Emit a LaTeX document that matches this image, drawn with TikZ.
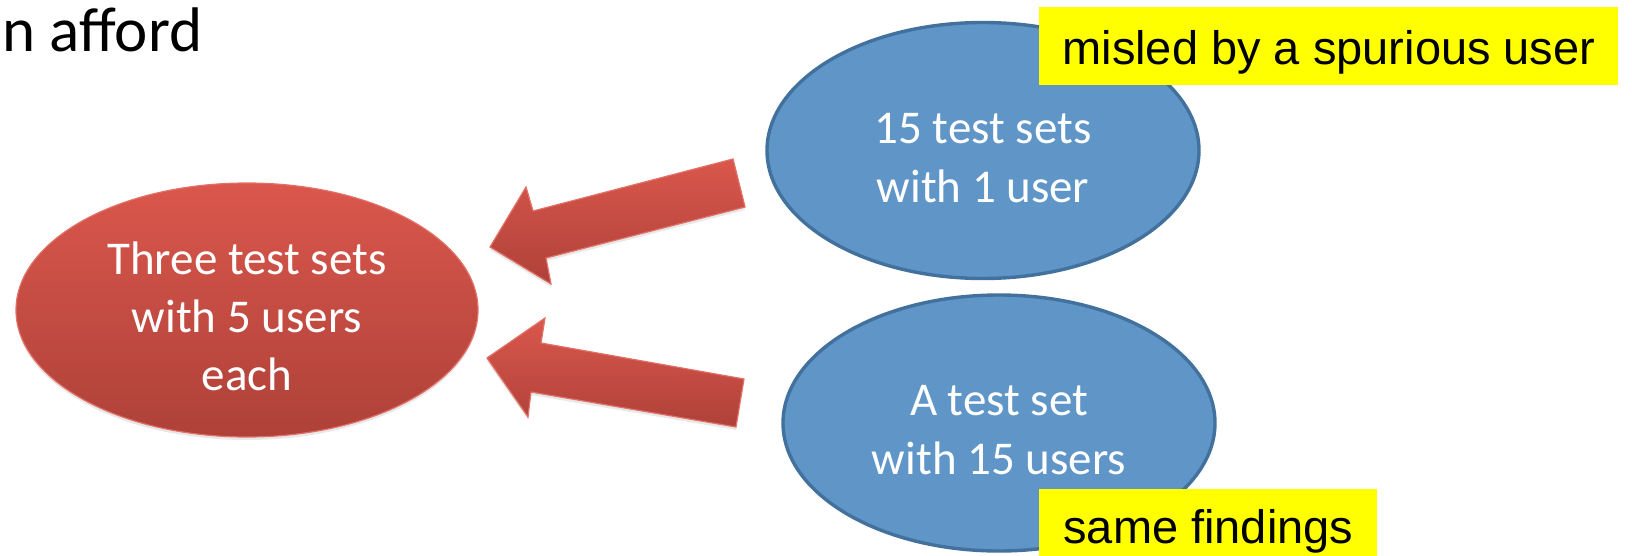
\documentclass[tikz,border=0pt]{standalone}
\usepackage{fontspec}
\setmainfont{Carlito}
\newfontfamily\labelfont{Liberation Sans}
\usetikzlibrary{shapes.geometric,shadows}
\definecolor{redtop}{RGB}{218,87,76}
\definecolor{redbot}{RGB}{174,65,57}
\definecolor{redline}{RGB}{226,112,102}
\definecolor{bluefill}{RGB}{96,149,200}
\definecolor{blueline}{RGB}{65,113,156}
\definecolor{noteyellow}{RGB}{255,255,0}
% tall invisible strut that sets the first line a little lower in its ellipse
\newcommand{\firstlinestrut}{\rule{0pt}{22.5pt}}
\begin{document}
\begin{tikzpicture}[x=0.5pt,y=-0.5pt,
  redell/.style={ellipse, inner sep=0pt, minimum width=231pt, minimum height=127pt,
    top color=redtop, bottom color=redbot, draw=redline, line width=0.6pt,
    drop shadow={opacity=0.18, shadow xshift=0pt, shadow yshift=-1.5pt},
    text=white, align=center, font=\fontsize{23.5}{29}\selectfont},
  blueell/.style={ellipse, inner sep=0pt, minimum width=216pt, minimum height=128pt,
    fill=bluefill, draw=blueline, line width=1.7pt,
    text=white, align=center, font=\fontsize{23.5}{29.5}\selectfont},
  note/.style={fill=noteyellow, inner sep=0pt, anchor=north west,
    text height=20pt, text depth=2pt, minimum height=39pt,
    font=\labelfont\fontsize{23.5}{28}\selectfont},
  bigarrow/.style={top color=redtop, bottom color=redbot, draw=redline, line width=0.6pt,
    drop shadow={opacity=0.18, shadow xshift=0pt, shadow yshift=-1.5pt}}
]
\useasboundingbox (0,0) rectangle (1632,556);

% heading fragment
\node[anchor=base west, inner sep=0pt, font=\fontsize{31.5}{38}\selectfont] (head) at (2,52) {n afford};

% target ellipse
\node[redell] (three) at (247,310) {\firstlinestrut Three test sets\\with 5 users\\each};

% source ellipses
\node[blueell] (fifteen) at (983,150.5) {\firstlinestrut 15 test sets\\with 1 user};
\node[blueell] (single) at (999,423) {\firstlinestrut A test set\\with 15 users};

% block arrows pointing at the red ellipse
\draw[bigarrow] (490,247) -- (526,187) -- (533,211) -- (733,159) -- (745,207)
  -- (546,258) -- (551,284) -- cycle;
\draw[bigarrow] (487,358) -- (545,318) -- (541,343) -- (744,379) -- (736,427)
  -- (531,392) -- (528,417) -- cycle;

% highlighted remarks
\node[note, minimum width=289.5pt] (misled) at (1039,7) {misled by a spurious user};
\node[note, minimum width=169pt, minimum height=36pt] (same) at (1039,489) {same findings};
\end{tikzpicture}
\end{document}
